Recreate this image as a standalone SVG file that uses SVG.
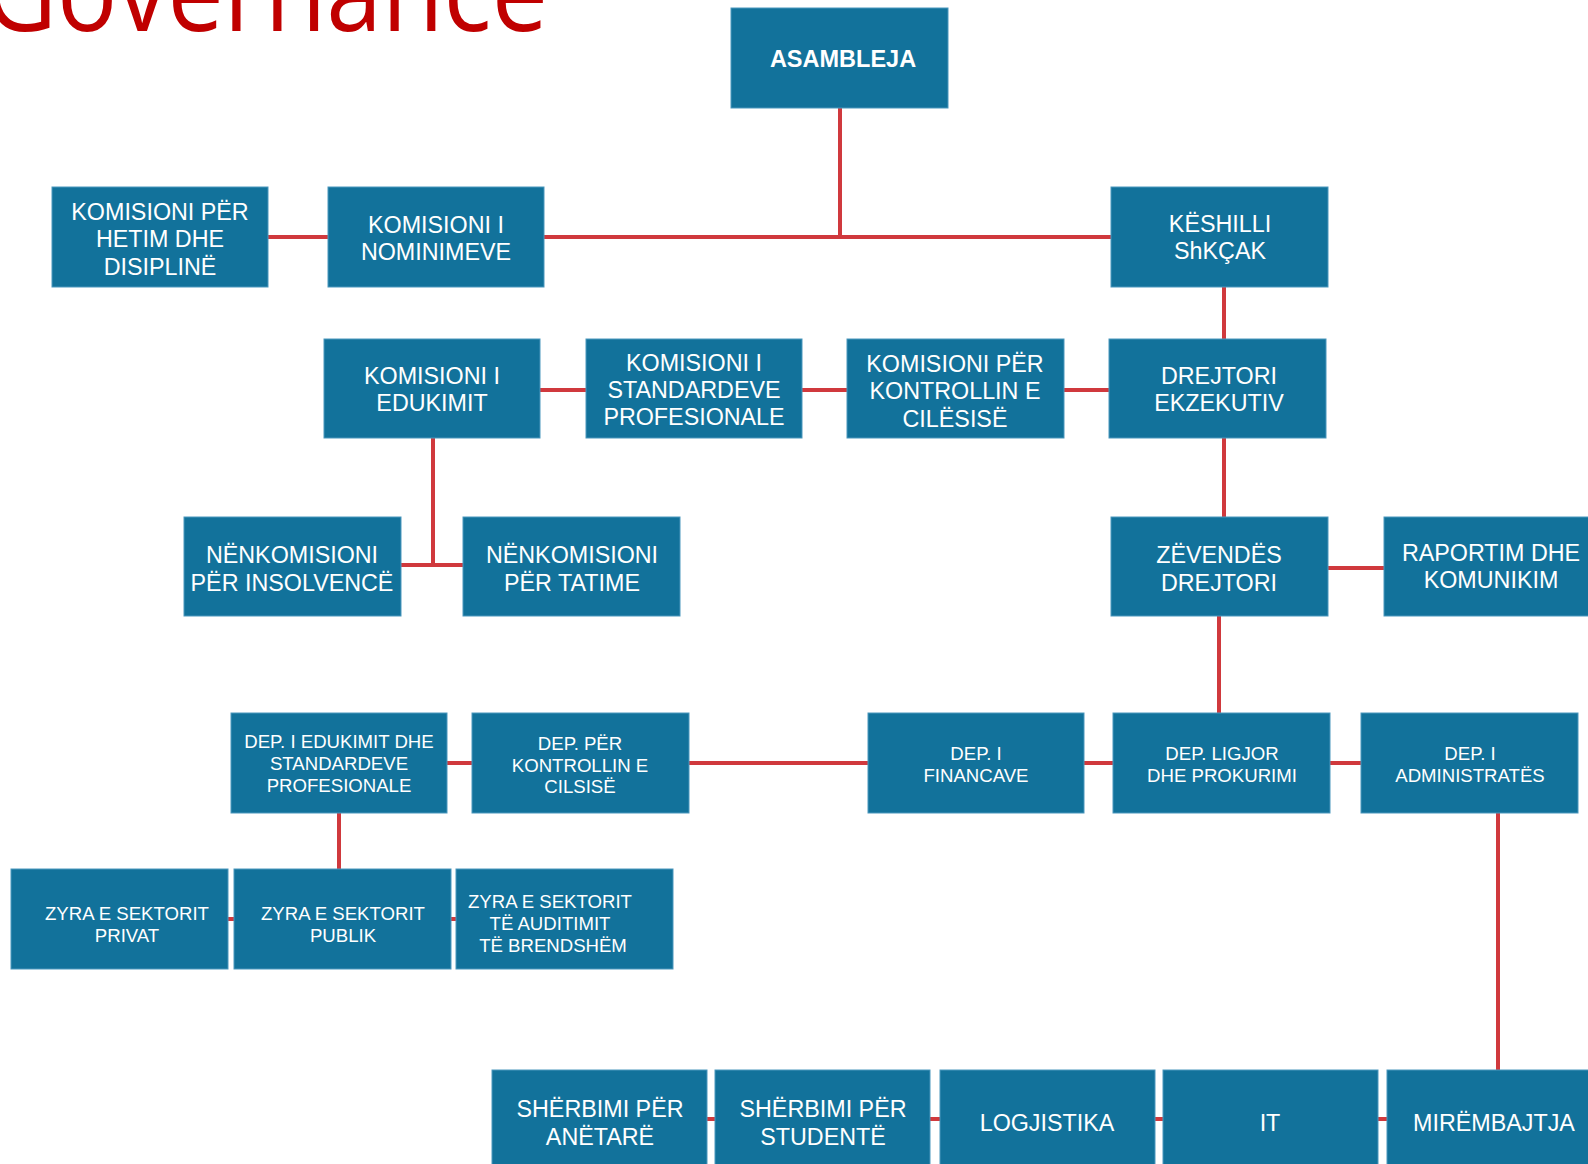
<svg xmlns="http://www.w3.org/2000/svg" width="1588" height="1164" viewBox="0 0 1588 1164">
<style>
  .box { fill: #12729b; stroke: #4b97bd; stroke-width: 1; }
  .t { fill: #ffffff; font-family: "Liberation Sans", Arial, sans-serif; font-size: 23.3px; text-anchor: middle; }
  .s { font-size: 18.6px; }
  .b { font-weight: bold; font-size: 23.5px; }
  .conn line { stroke: #d0393d; stroke-width: 4; fill: none; }
  .title { fill: #c00000; font-family: "Open Sans", "Noto Sans", sans-serif; font-size: 112px; }
</style>
<rect width="1588" height="1164" fill="#ffffff"/>
<text class="title" x="-16" y="31" textLength="564" lengthAdjust="spacingAndGlyphs">Governance</text>

<g id="connectors" class="conn">
  <line x1="840" y1="108" x2="840" y2="237"/>
  <line x1="268" y1="237" x2="1111" y2="237"/>
  <line x1="1224" y1="287" x2="1224" y2="339"/>
  <line x1="540" y1="390" x2="1109" y2="390"/>
  <line x1="433" y1="438" x2="433" y2="565"/>
  <line x1="401" y1="565" x2="463" y2="565"/>
  <line x1="1224" y1="438" x2="1224" y2="517"/>
  <line x1="1328" y1="568" x2="1384" y2="568"/>
  <line x1="1219" y1="616" x2="1219" y2="713"/>
  <line x1="447" y1="763" x2="1361" y2="763"/>
  <line x1="339" y1="813" x2="339" y2="869"/>
  <line x1="228" y1="919" x2="456" y2="919"/>
  <line x1="1498" y1="813" x2="1498" y2="1070"/>
  <line x1="707" y1="1119" x2="1387" y2="1119"/>
</g>

<g id="asambleja"><rect class="box" x="731" y="8" width="217" height="100"/>
  <text class="t b" x="843" y="67">ASAMBLEJA</text></g>

<g id="komisioni-hetim"><rect class="box" x="52" y="187" width="216" height="100"/>
  <text class="t" x="160" y="220">KOMISIONI PËR</text>
  <text class="t" x="160" y="247">HETIM DHE</text>
  <text class="t" x="160" y="275">DISIPLINË</text></g>

<g id="komisioni-nominimeve"><rect class="box" x="328" y="187" width="216" height="100"/>
  <text class="t" x="436" y="233">KOMISIONI I</text>
  <text class="t" x="436" y="260">NOMINIMEVE</text></g>

<g id="keshilli"><rect class="box" x="1111" y="187" width="217" height="100"/>
  <text class="t" x="1220" y="232">KËSHILLI</text>
  <text class="t" x="1220" y="259">ShKÇAK</text></g>

<g id="komisioni-edukimit"><rect class="box" x="324" y="339" width="216" height="99"/>
  <text class="t" x="432" y="384">KOMISIONI I</text>
  <text class="t" x="432" y="411">EDUKIMIT</text></g>

<g id="komisioni-standardeve"><rect class="box" x="586" y="339" width="216" height="99"/>
  <text class="t" x="694" y="371">KOMISIONI I</text>
  <text class="t" x="694" y="398">STANDARDEVE</text>
  <text class="t" x="694" y="425">PROFESIONALE</text></g>

<g id="komisioni-kontrollin"><rect class="box" x="847" y="339" width="217" height="99"/>
  <text class="t" x="955" y="372">KOMISIONI PËR</text>
  <text class="t" x="955" y="399">KONTROLLIN E</text>
  <text class="t" x="955" y="427">CILËSISË</text></g>

<g id="drejtori-ekzekutiv"><rect class="box" x="1109" y="339" width="217" height="99"/>
  <text class="t" x="1219" y="384">DREJTORI</text>
  <text class="t" x="1219" y="411">EKZEKUTIV</text></g>

<g id="nenkomisioni-insolvence"><rect class="box" x="184" y="517" width="217" height="99"/>
  <text class="t" x="292" y="563">NËNKOMISIONI</text>
  <text class="t" x="292" y="591">PËR INSOLVENCË</text></g>

<g id="nenkomisioni-tatime"><rect class="box" x="463" y="517" width="217" height="99"/>
  <text class="t" x="572" y="563">NËNKOMISIONI</text>
  <text class="t" x="572" y="591">PËR TATIME</text></g>

<g id="zevendes-drejtori"><rect class="box" x="1111" y="517" width="217" height="99"/>
  <text class="t" x="1219" y="563">ZËVENDËS</text>
  <text class="t" x="1219" y="591">DREJTORI</text></g>

<g id="raportim"><rect class="box" x="1384" y="517" width="217" height="99"/>
  <text class="t" x="1491" y="561">RAPORTIM DHE</text>
  <text class="t" x="1491" y="588">KOMUNIKIM</text></g>

<g id="dep-edukimit"><rect class="box" x="231" y="713" width="216" height="100"/>
  <text class="t s" x="339" y="748">DEP. I EDUKIMIT DHE</text>
  <text class="t s" x="339" y="770">STANDARDEVE</text>
  <text class="t s" x="339" y="792">PROFESIONALE</text></g>

<g id="dep-kontrollin"><rect class="box" x="472" y="713" width="217" height="100"/>
  <text class="t s" x="580" y="750">DEP. PËR</text>
  <text class="t s" x="580" y="772">KONTROLLIN E</text>
  <text class="t s" x="580" y="793">CILSISË</text></g>

<g id="dep-financave"><rect class="box" x="868" y="713" width="216" height="100"/>
  <text class="t s" x="976" y="760">DEP. I</text>
  <text class="t s" x="976" y="782">FINANCAVE</text></g>

<g id="dep-ligjor"><rect class="box" x="1113" y="713" width="217" height="100"/>
  <text class="t s" x="1222" y="760">DEP. LIGJOR</text>
  <text class="t s" x="1222" y="782">DHE PROKURIMI</text></g>

<g id="dep-administrates"><rect class="box" x="1361" y="713" width="217" height="100"/>
  <text class="t s" x="1470" y="760">DEP. I</text>
  <text class="t s" x="1470" y="782">ADMINISTRATËS</text></g>

<g id="zyra-privat"><rect class="box" x="11" y="869" width="217" height="100"/>
  <text class="t s" x="127" y="920">ZYRA E SEKTORIT</text>
  <text class="t s" x="127" y="942">PRIVAT</text></g>

<g id="zyra-publik"><rect class="box" x="234" y="869" width="217" height="100"/>
  <text class="t s" x="343" y="920">ZYRA E SEKTORIT</text>
  <text class="t s" x="343" y="942">PUBLIK</text></g>

<g id="zyra-auditimit"><rect class="box" x="456" y="869" width="217" height="100"/>
  <text class="t s" x="550" y="908">ZYRA E SEKTORIT</text>
  <text class="t s" x="550" y="930">TË AUDITIMIT</text>
  <text class="t s" x="553" y="952">TË BRENDSHËM</text></g>

<g id="sherbimi-anetare"><rect class="box" x="492" y="1070" width="215" height="100"/>
  <text class="t" x="600" y="1117">SHËRBIMI PËR</text>
  <text class="t" x="600" y="1145">ANËTARË</text></g>

<g id="sherbimi-studente"><rect class="box" x="715" y="1070" width="215" height="100"/>
  <text class="t" x="823" y="1117">SHËRBIMI PËR</text>
  <text class="t" x="823" y="1145">STUDENTË</text></g>

<g id="logjistika"><rect class="box" x="940" y="1070" width="215" height="100"/>
  <text class="t" x="1047" y="1131">LOGJISTIKA</text></g>

<g id="it"><rect class="box" x="1163" y="1070" width="215" height="100"/>
  <text class="t" x="1270" y="1131">IT</text></g>

<g id="mirembajtja"><rect class="box" x="1387" y="1070" width="215" height="100"/>
  <text class="t" x="1494" y="1131">MIRËMBAJTJA</text></g>
</svg>
